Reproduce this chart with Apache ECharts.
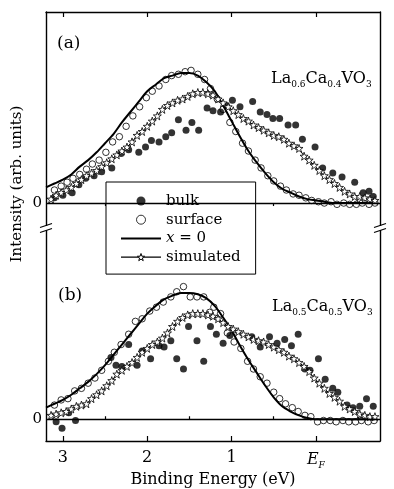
<!DOCTYPE html>
<html>
<head>
<meta charset="utf-8">
<script src="https://cdn.jsdelivr.net/npm/echarts@6/dist/echarts.min.js"></script>
<style>
  html, body { margin: 0; padding: 0; background: #fff; }
  #chart { width: 394px; height: 489px; }
</style>
</head>
<body>
<div id="chart"></div>
<script>
const FONT = 'DejaVu Serif';

// binding energy axis (eV), drawn reversed
const xMin = -0.76;
const xMax = 3.2;
const majorTicks = [3, 2, 1, 0];
const minorTicks = [2.5, 1.5, 0.5, -0.5];
const tickLabels = ['3', '2', '1', 'EF'];

// x = 0 reference curve, sampled every 0.1 eV
const zeroE = [3.2, 3.1, 3.0, 2.9, 2.8, 2.7, 2.6, 2.5, 2.4, 2.3,
  2.2, 2.1, 2.0, 1.9, 1.8, 1.7, 1.6, 1.5, 1.4, 1.3,
  1.2, 1.1, 1.0, 0.9, 0.8, 0.7, 0.6, 0.5, 0.4, 0.3,
  0.2, 0.1, 0.0, -0.1, -0.2, -0.3, -0.4, -0.5, -0.6, -0.7];
const zeroA = [0.12, 0.15, 0.18, 0.22, 0.28, 0.33, 0.39, 0.46, 0.53, 0.62,
  0.70, 0.78, 0.86, 0.91, 0.96, 0.98, 1.00, 1.00, 0.98, 0.93,
  0.86, 0.75, 0.63, 0.51, 0.40, 0.31, 0.23, 0.16, 0.11, 0.08,
  0.05, 0.03, 0.02, 0.01, 0, 0, 0, 0, 0, 0];
const zeroB = [0.09, 0.12, 0.15, 0.19, 0.24, 0.29, 0.35, 0.42, 0.50, 0.58,
  0.66, 0.74, 0.82, 0.88, 0.93, 0.96, 0.98, 0.98, 0.97, 0.94,
  0.88, 0.79, 0.69, 0.57, 0.46, 0.36, 0.26, 0.17, 0.10, 0.06,
  0.03, 0.01, 0, 0, 0, 0, 0, 0, 0, 0];

// (a) La0.6Ca0.4VO3  [energy, intensity]
const bulkA = [[3.10, 0.04], [3.00, 0.06], [2.89, 0.08], [2.81, 0.14], [2.73, 0.19], [2.63, 0.21],
  [2.54, 0.24], [2.42, 0.27], [2.31, 0.38], [2.22, 0.41], [2.10, 0.39], [2.02, 0.43], [1.95, 0.48],
  [1.86, 0.47], [1.78, 0.51], [1.71, 0.54], [1.63, 0.64], [1.54, 0.56], [1.47, 0.62], [1.39, 0.56],
  [1.29, 0.73], [1.22, 0.71], [1.13, 0.70], [1.06, 0.75], [0.99, 0.79], [0.90, 0.74], [0.75, 0.78],
  [0.66, 0.70], [0.58, 0.68], [0.51, 0.65], [0.43, 0.65], [0.33, 0.60], [0.24, 0.60], [0.16, 0.49],
  [0.01, 0.43], [-0.08, 0.27], [-0.20, 0.23], [-0.31, 0.20], [-0.46, 0.16], [-0.56, 0.08],
  [-0.63, 0.09], [-0.68, 0.05]];
const surfaceA = [[3.10, 0.10], [3.02, 0.13], [2.95, 0.16], [2.88, 0.19], [2.80, 0.22], [2.72, 0.26],
  [2.65, 0.30], [2.57, 0.33], [2.49, 0.39], [2.41, 0.47], [2.33, 0.51], [2.25, 0.59], [2.17, 0.67],
  [2.09, 0.74], [2.01, 0.81], [1.94, 0.86], [1.86, 0.90], [1.78, 0.95], [1.71, 0.98], [1.63, 0.99],
  [1.55, 1.01], [1.48, 1.02], [1.40, 0.99], [1.32, 0.95], [1.25, 0.88], [1.17, 0.80], [1.10, 0.72],
  [1.02, 0.62], [0.95, 0.55], [0.87, 0.46], [0.80, 0.40], [0.72, 0.33], [0.65, 0.27], [0.57, 0.21],
  [0.50, 0.17], [0.42, 0.13], [0.35, 0.10], [0.27, 0.07], [0.20, 0.06], [0.12, 0.04], [0.05, 0.02],
  [-0.03, 0.01], [-0.10, 0.00], [-0.18, 0.01], [-0.25, -0.01], [-0.33, 0.00], [-0.40, -0.01],
  [-0.48, -0.01], [-0.55, 0.00], [-0.63, -0.01], [-0.70, 0.00]];
const simA = [[3.14, 0.03], [3.08, 0.06], [3.02, 0.08], [2.96, 0.10], [2.90, 0.12], [2.84, 0.15],
  [2.78, 0.18], [2.72, 0.21], [2.66, 0.23], [2.60, 0.25], [2.54, 0.28], [2.48, 0.31], [2.42, 0.34],
  [2.36, 0.37], [2.30, 0.40], [2.24, 0.43], [2.18, 0.47], [2.12, 0.52], [2.06, 0.55], [2.00, 0.59],
  [1.94, 0.63], [1.88, 0.67], [1.82, 0.72], [1.76, 0.75], [1.70, 0.77], [1.64, 0.79], [1.58, 0.80],
  [1.52, 0.82], [1.46, 0.84], [1.40, 0.85], [1.34, 0.85], [1.28, 0.84], [1.22, 0.83], [1.16, 0.80],
  [1.10, 0.77], [1.04, 0.74], [0.98, 0.71], [0.92, 0.68], [0.86, 0.65], [0.80, 0.63], [0.74, 0.60],
  [0.68, 0.58], [0.62, 0.56], [0.56, 0.54], [0.50, 0.52], [0.44, 0.51], [0.38, 0.49], [0.32, 0.46],
  [0.26, 0.44], [0.20, 0.42], [0.14, 0.36], [0.08, 0.33], [0.02, 0.29], [-0.04, 0.25], [-0.10, 0.21],
  [-0.16, 0.18], [-0.22, 0.15], [-0.28, 0.12], [-0.34, 0.09], [-0.40, 0.07], [-0.46, 0.05],
  [-0.52, 0.05], [-0.58, 0.04], [-0.64, 0.03], [-0.70, 0.02]];

// (b) La0.5Ca0.5VO3
const bulkB = [[3.08, -0.02], [3.01, -0.07], [2.93, 0.05], [2.85, -0.01], [2.43, 0.48], [2.37, 0.42],
  [2.30, 0.41], [2.22, 0.58], [2.12, 0.42], [2.06, 0.53], [1.96, 0.47], [1.86, 0.57], [1.80, 0.56],
  [1.72, 0.61], [1.65, 0.47], [1.57, 0.39], [1.51, 0.72], [1.41, 0.61], [1.33, 0.45], [1.25, 0.72],
  [1.18, 0.66], [1.10, 0.59], [1.02, 0.65], [0.76, 0.64], [0.66, 0.56], [0.55, 0.64], [0.46, 0.59],
  [0.37, 0.62], [0.29, 0.57], [0.21, 0.66], [0.13, 0.39], [0.07, 0.38], [-0.03, 0.47], [-0.11, 0.31],
  [-0.20, 0.24], [-0.26, 0.21], [-0.37, 0.11], [-0.44, 0.09], [-0.52, 0.10], [-0.60, 0.16],
  [-0.68, 0.10]];
const surfaceB = [[3.10, 0.11], [3.02, 0.15], [2.94, 0.16], [2.86, 0.22], [2.78, 0.24], [2.70, 0.28],
  [2.62, 0.32], [2.54, 0.38], [2.46, 0.45], [2.39, 0.52], [2.31, 0.58], [2.22, 0.66], [2.14, 0.76],
  [2.06, 0.78], [1.97, 0.84], [1.89, 0.87], [1.81, 0.91], [1.72, 0.95], [1.65, 0.99], [1.57, 1.03],
  [1.49, 0.95], [1.41, 0.95], [1.33, 0.95], [1.26, 0.83], [1.21, 0.87], [1.13, 0.82], [1.05, 0.67],
  [0.97, 0.60], [0.89, 0.55], [0.81, 0.45], [0.74, 0.39], [0.66, 0.33], [0.58, 0.28], [0.50, 0.21],
  [0.43, 0.16], [0.36, 0.12], [0.28, 0.09], [0.21, 0.06], [0.13, 0.03], [0.06, 0.02], [-0.02, -0.02],
  [-0.09, -0.01], [-0.17, -0.01], [-0.24, -0.02], [-0.32, -0.01], [-0.39, -0.02], [-0.47, -0.02],
  [-0.54, -0.01], [-0.62, -0.02], [-0.69, -0.01]];
const simB = [[3.14, 0.03], [3.08, 0.04], [3.02, 0.05], [2.96, 0.06], [2.90, 0.08], [2.84, 0.10],
  [2.78, 0.11], [2.72, 0.12], [2.66, 0.16], [2.60, 0.19], [2.54, 0.22], [2.48, 0.26], [2.42, 0.30],
  [2.36, 0.35], [2.30, 0.38], [2.24, 0.41], [2.18, 0.44], [2.12, 0.48], [2.06, 0.52], [2.00, 0.55],
  [1.94, 0.58], [1.88, 0.60], [1.82, 0.63], [1.76, 0.67], [1.70, 0.72], [1.64, 0.76], [1.58, 0.79],
  [1.52, 0.81], [1.46, 0.82], [1.40, 0.82], [1.34, 0.82], [1.28, 0.81], [1.22, 0.80], [1.16, 0.78],
  [1.10, 0.75], [1.04, 0.72], [0.98, 0.70], [0.92, 0.68], [0.86, 0.66], [0.80, 0.64], [0.74, 0.62],
  [0.68, 0.61], [0.62, 0.60], [0.56, 0.58], [0.50, 0.56], [0.44, 0.54], [0.38, 0.52], [0.32, 0.49],
  [0.26, 0.47], [0.20, 0.44], [0.14, 0.41], [0.08, 0.37], [0.02, 0.32], [-0.04, 0.28], [-0.10, 0.24],
  [-0.16, 0.20], [-0.22, 0.17], [-0.28, 0.14], [-0.34, 0.10], [-0.40, 0.08], [-0.46, 0.06],
  [-0.52, 0.04], [-0.58, 0.03], [-0.64, 0.02], [-0.70, 0.02]];

const STAR = 'path://M0,-10L2.35,-3.24L9.51,-3.09L3.8,1.24L5.88,8.09L0,4L-5.88,8.09L-3.8,1.24L-9.51,-3.09L-2.35,-3.24Z';
const BLACK = '#000';

function pairs(xs, ys) {
  return xs.map((x, i) => [x, ys[i]]);
}

function xAxisPair(gridIndex, top) {
  const base = {
    gridIndex: gridIndex,
    type: 'value',
    inverse: true,
    min: xMin,
    max: xMax,
    position: top ? 'top' : 'bottom',
    splitLine: { show: false }
  };
  const major = Object.assign({}, base, {
    axisLine: { show: true, onZero: false, lineStyle: { color: BLACK, width: 1.4 } },
    axisTick: { show: true, inside: true, length: 5, customValues: majorTicks, lineStyle: { color: BLACK, width: 1.2 } },
    axisLabel: top ? { show: false } : {
      show: true,
      customValues: majorTicks,
      margin: 9,
      color: BLACK,
      fontFamily: FONT,
      fontSize: 16,
      formatter: function (v) {
        const i = majorTicks.indexOf(v);
        return v === 0 ? '{e|E}{f|F}' : tickLabels[i];
      },
      rich: {
        e: { fontFamily: FONT, fontSize: 16, fontStyle: 'italic', color: BLACK, lineHeight: 20 },
        f: { fontFamily: FONT, fontSize: 9, fontStyle: 'italic', color: BLACK, verticalAlign: 'bottom', lineHeight: 12 }
      }
    }
  });
  if (!top) {
    major.name = 'Binding Energy (eV)';
    major.nameLocation = 'middle';
    major.nameGap = 31;
    major.nameTextStyle = { fontFamily: FONT, fontSize: 16, color: BLACK };
  }
  const minor = Object.assign({}, base, {
    axisLine: { show: false },
    axisTick: { show: true, inside: true, length: 3, customValues: minorTicks, lineStyle: { color: BLACK, width: 1.2 } },
    axisLabel: { show: false }
  });
  return [major, minor];
}

function yAxisPair(gridIndex, min, max) {
  return ['left', 'right'].map(pos => ({
    gridIndex: gridIndex,
    type: 'value',
    position: pos,
    min: min,
    max: max,
    axisLine: { show: true, onZero: false, lineStyle: { color: BLACK, width: 1.4 } },
    axisTick: { show: false },
    axisLabel: { show: false },
    splitLine: { show: false }
  }));
}

function panelSeries(xi, yi, zero, sim, surface, bulk) {
  return [
    {
      name: 'x = 0', type: 'line', xAxisIndex: xi, yAxisIndex: yi,
      data: zero, smooth: 0.3, symbol: 'none',
      lineStyle: { color: BLACK, width: 2 },
      itemStyle: { color: BLACK },
      markLine: {
        silent: true, symbol: ['none', 'none'],
        lineStyle: { color: BLACK, width: 1.3, type: 'solid' },
        label: { show: true, position: 'end', formatter: '0', distance: 4, color: BLACK, fontFamily: FONT, fontSize: 15 },
        data: [{ yAxis: 0 }]
      }
    },
    {
      name: 'simulated', type: 'line', xAxisIndex: xi, yAxisIndex: yi,
      data: sim, symbol: STAR, symbolSize: 8,
      lineStyle: { color: BLACK, width: 1 },
      itemStyle: { color: '#fff', borderColor: BLACK, borderWidth: 0.8 }
    },
    {
      name: 'surface', type: 'scatter', xAxisIndex: xi, yAxisIndex: yi,
      data: surface, symbol: 'circle', symbolSize: 6.5,
      itemStyle: { color: '#fff', borderColor: BLACK, borderWidth: 1 }
    },
    {
      name: 'bulk', type: 'scatter', xAxisIndex: xi, yAxisIndex: yi,
      data: bulk, symbol: 'circle', symbolSize: 7,
      itemStyle: { color: BLACK }
    }
  ];
}

function breakMark(x, y) {
  return [
    { type: 'rect', shape: { x: x - 3, y: y - 2, width: 6, height: 4 }, style: { fill: '#fff' }, z: 100 },
    { type: 'line', shape: { x1: x - 6, y1: y - 0.5, x2: x + 6, y2: y - 4.5 }, style: { stroke: BLACK, lineWidth: 1.2 }, z: 101 },
    { type: 'line', shape: { x1: x - 6, y1: y + 4.5, x2: x + 6, y2: y + 0.5 }, style: { stroke: BLACK, lineWidth: 1.2 }, z: 101 }
  ];
}

const chemRich = {
  m: { fontFamily: FONT, fontSize: 16, color: BLACK, lineHeight: 20 },
  s: { fontFamily: FONT, fontSize: 9, color: BLACK, verticalAlign: 'bottom', lineHeight: 12 }
};

const chart = echarts.init(document.getElementById('chart'), null, { renderer: 'canvas' });

chart.setOption({
  animation: false,
  backgroundColor: '#fff',
  grid: [
    { left: 46, right: 14, top: 12, height: 216 },
    { left: 46, right: 14, top: 228, height: 215 }
  ],
  xAxis: xAxisPair(0, true).concat(xAxisPair(1, false)),
  yAxis: yAxisPair(0, -0.192, 1.469).concat(yAxisPair(1, -0.169, 1.485)),
  legend: {
    orient: 'vertical',
    left: 106,
    top: 182,
    data: [
      { name: 'bulk', itemStyle: { color: BLACK } },
      { name: 'surface', itemStyle: { color: '#fff', borderColor: BLACK, borderWidth: 1 } },
      { name: 'x = 0', itemStyle: { opacity: 0 }, lineStyle: { color: BLACK, width: 2 } },
      { name: 'simulated', itemStyle: { color: '#fff', borderColor: BLACK, borderWidth: 1 }, lineStyle: { color: BLACK, width: 1.2 } }
    ],
    itemWidth: 40,
    itemHeight: 9,
    itemGap: 2.7,
    padding: [11, 15, 9, 14],
    backgroundColor: '#fff',
    borderColor: BLACK,
    borderWidth: 1,
    borderRadius: 0,
    selectedMode: false,
    formatter: function (name) {
      return name === 'x = 0' ? '{i|x} = 0' : name;
    },
    textStyle: {
      fontFamily: FONT, fontSize: 15, color: BLACK, lineHeight: 16,
      rich: { i: { fontFamily: FONT, fontSize: 15, fontStyle: 'italic', color: BLACK } }
    }
  },
  graphic: [
    {
      type: 'text', x: 17, y: 184, rotation: Math.PI / 2,
      style: { text: 'Intensity (arb. units)', font: '15px "DejaVu Serif"', fill: BLACK, align: 'center', verticalAlign: 'middle' }
    },
    { type: 'text', x: 57, y: 44, style: { text: '(a)', font: '17px "DejaVu Serif"', fill: BLACK, verticalAlign: 'middle' } },
    { type: 'text', x: 58, y: 296, style: { text: '(b)', font: '17px "DejaVu Serif"', fill: BLACK, verticalAlign: 'middle' } },
    {
      type: 'text', x: 271, y: 79,
      style: { text: '{m|La}{s|0.6}{m|Ca}{s|0.4}{m|VO}{s|3}', rich: chemRich, verticalAlign: 'middle' }
    },
    {
      type: 'text', x: 272, y: 307,
      style: { text: '{m|La}{s|0.5}{m|Ca}{s|0.5}{m|VO}{s|3}', rich: chemRich, verticalAlign: 'middle' }
    }
  ].concat(breakMark(46, 228), breakMark(380, 228)),
  series: panelSeries(0, 0, pairs(zeroE, zeroA), simA, surfaceA, bulkA)
    .concat(panelSeries(2, 2, pairs(zeroE, zeroB), simB, surfaceB, bulkB))
});
</script>
</body>
</html>
